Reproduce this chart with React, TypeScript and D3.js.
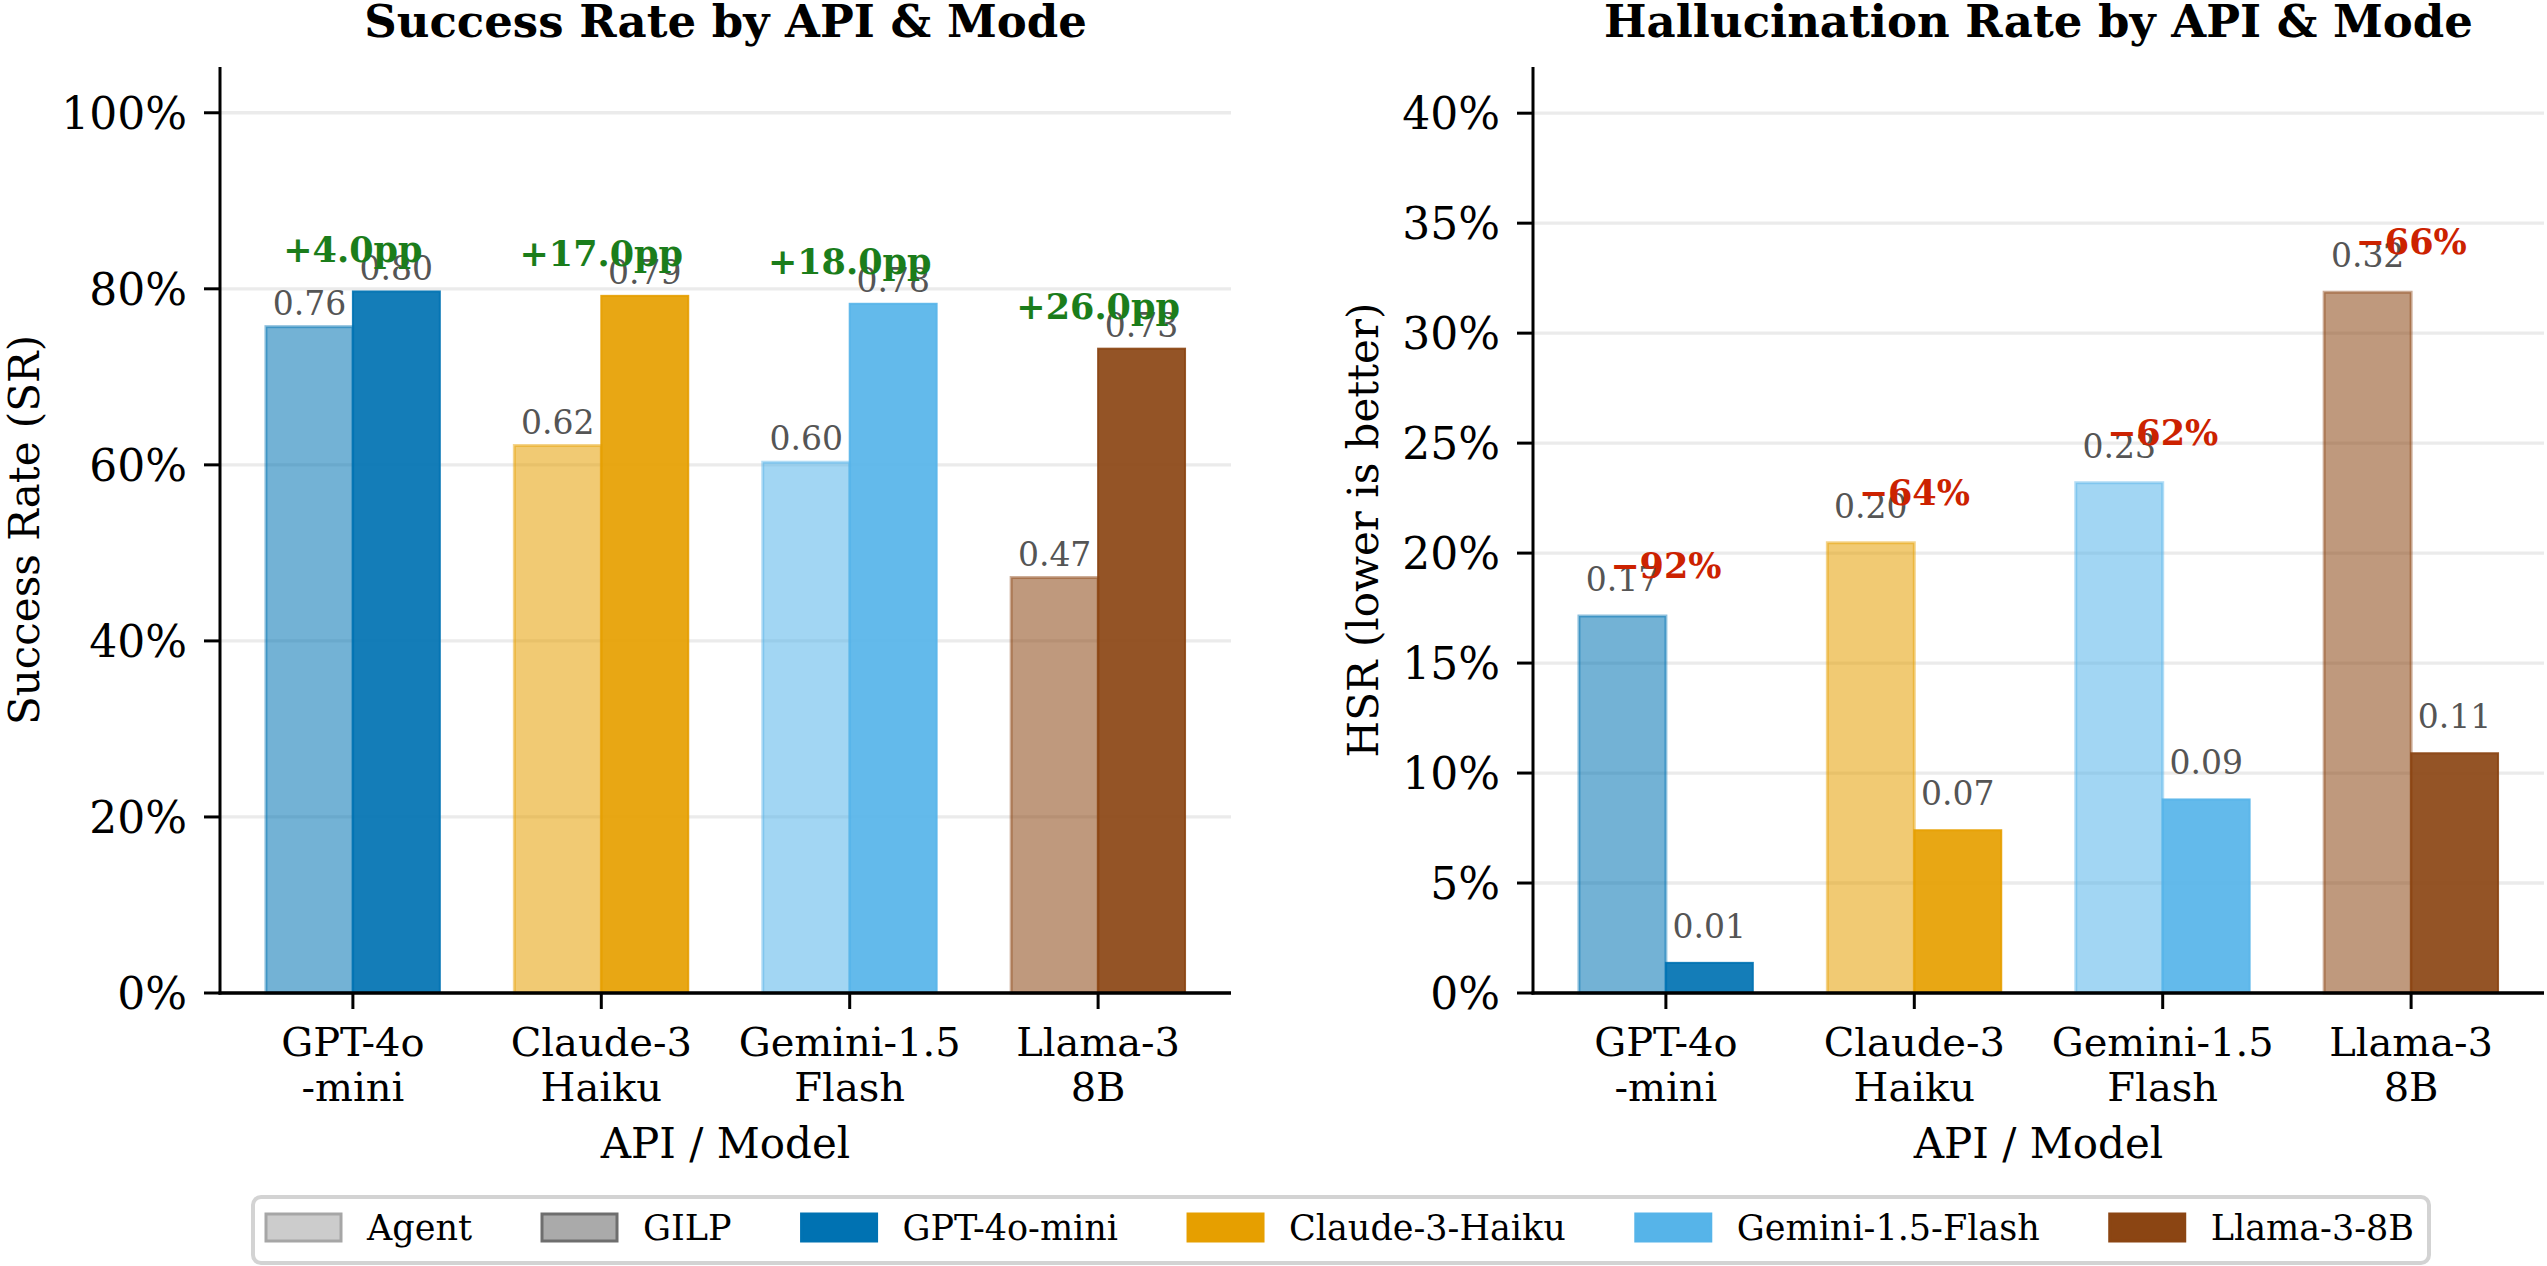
import React from 'react';
import * as d3 from 'd3';

const models = ['GPT-4o-mini', 'Claude-3-Haiku', 'Gemini-1.5-Flash', 'Llama-3-8B'];
const tickLines = [['GPT-4o', '-mini'], ['Claude-3', 'Haiku'], ['Gemini-1.5', 'Flash'], ['Llama-3', '8B']];
const modelColors = ['#0072B2', '#E69F00', '#56B4E9', '#8B4513'];

// success rate (higher is better)
const srAgent = [0.757, 0.622, 0.603, 0.472];
const srGilp = [0.797, 0.792, 0.783, 0.732];
const srTicks = [0, 0.2, 0.4, 0.6, 0.8, 1.0];

// hallucination rate (lower is better)
const hsrAgent = [0.1714, 0.2047, 0.232, 0.3186];
const hsrGilp = [0.0137, 0.074, 0.088, 0.109];
const hsrTicks = [0, 0.05, 0.1, 0.15, 0.2, 0.25, 0.3, 0.35, 0.4];

const legendItems = [
  { label: 'Agent', fill: '#cccccc', stroke: '#a6a6a6' },
  { label: 'GILP', fill: '#aaaaaa', stroke: '#6e6e6e' },
  ...models.map((m, i) => ({ label: m, fill: modelColors[i], stroke: modelColors[i] })),
];

const W = 2547;
const H = 1266;
const FONT = "'DejaVu Serif', serif";
const BOTTOM = 993;
const TOP = 67;

interface PanelProps {
  x0: number;
  x1: number;
  yMax: number;
  ticks: number[];
  agent: number[];
  gilp: number[];
  title: string;
  ylabel: string;
  ylabelOffset: number;
  annotOffset: number;
  annotColor: string;
  annot: (a: number, g: number) => string;
}

const Panel: React.FC<PanelProps> = ({
  x0, x1, yMax, ticks, agent, gilp, title, ylabel, ylabelOffset, annotOffset, annotColor, annot,
}) => {
  const x = d3.scaleLinear().domain([-0.535, 3.535]).range([x0, x1]);
  const y = d3.scaleLinear().domain([0, yMax]).range([BOTTOM, TOP]);
  const bw = x(0.35) - x(0);
  const midX = (x0 + x1) / 2;
  const midY = (TOP + BOTTOM) / 2;

  return (
    <g>
      <text x={midX} y={37} textAnchor="middle" fontFamily={FONT} fontWeight="bold" fontSize={45}>
        {title}
      </text>

      {/* grid */}
      {ticks.map(t => (
        <line key={`g${t}`} x1={x0} x2={x1} y1={y(t)} y2={y(t)} stroke="#ebebeb" strokeWidth={3.3} />
      ))}

      {/* bars */}
      {models.map((m, i) => (
        <g key={m}>
          <rect
            x={x(i - 0.35)} y={y(agent[i])} width={bw} height={BOTTOM - y(agent[i])}
            fill={modelColors[i]} fillOpacity={0.55}
            stroke={modelColors[i]} strokeOpacity={0.45} strokeWidth={3}
          />
          <rect
            x={x(i)} y={y(gilp[i])} width={bw} height={BOTTOM - y(gilp[i])}
            fill={modelColors[i]} fillOpacity={0.92}
            stroke={modelColors[i]} strokeOpacity={0.9} strokeWidth={2}
          />
        </g>
      ))}

      {/* value labels */}
      {models.map((m, i) => (
        <g key={`v${m}`} fontFamily={FONT} fontSize={33} fill="#555" textAnchor="middle">
          <text x={x(i - 0.175)} y={y(agent[i] + 0.01) - 3}>{agent[i].toFixed(2)}</text>
          <text x={x(i + 0.175)} y={y(gilp[i] + 0.01) - 3}>{gilp[i].toFixed(2)}</text>
        </g>
      ))}

      {/* change annotations */}
      {models.map((m, i) => (
        <text
          key={`a${m}`} x={x(i)} y={y(Math.max(agent[i], gilp[i]) + annotOffset) - 3}
          textAnchor="middle" fontFamily={FONT} fontWeight="bold" fontSize={35} fill={annotColor}
        >
          {annot(agent[i], gilp[i])}
        </text>
      ))}

      {/* spines */}
      <line x1={x0} x2={x0} y1={TOP} y2={BOTTOM + 1.5} stroke="#000" strokeWidth={3} />
      <line x1={x0 - 1.5} x2={x1} y1={BOTTOM} y2={BOTTOM} stroke="#000" strokeWidth={3.5} />

      {/* y ticks */}
      {ticks.map(t => (
        <g key={`t${t}`}>
          <line x1={x0 - 16} x2={x0} y1={y(t)} y2={y(t)} stroke="#000" strokeWidth={3} />
          <text x={x0 - 33} y={y(t)} dy="0.36em" textAnchor="end" fontFamily={FONT} fontSize={44}>
            {`${Math.round(t * 100)}%`}
          </text>
        </g>
      ))}

      {/* x ticks */}
      {tickLines.map((lines, i) => (
        <g key={`x${i}`}>
          <line x1={x(i)} x2={x(i)} y1={BOTTOM} y2={BOTTOM + 16} stroke="#000" strokeWidth={3} />
          {lines.map((ln, j) => (
            <text key={ln} x={x(i)} y={BOTTOM + 63 + j * 45} textAnchor="middle" fontFamily={FONT} fontSize={40}>
              {ln}
            </text>
          ))}
        </g>
      ))}

      <text x={midX} y={BOTTOM + 165} textAnchor="middle" fontFamily={FONT} fontSize={42}>API / Model</text>
      <text
        transform={`translate(${x0 - ylabelOffset},${midY}) rotate(-90)`}
        textAnchor="middle" fontFamily={FONT} fontSize={42}
      >
        {ylabel}
      </text>
    </g>
  );
};

function measure(txt: string, size: number): number {
  if (typeof document === 'undefined') return txt.length * size * 0.6;
  const c = document.createElement('canvas').getContext('2d');
  if (!c) return txt.length * size * 0.6;
  c.font = `${size}px 'DejaVu Serif'`;
  return c.measureText(txt).width;
}

const Legend: React.FC = () => {
  const boxX = 253;
  const boxY = 1197;
  const patchW = 75;
  const patchH = 27;
  const textPad = 26;
  const colSpace = 70;
  let cx = boxX + 13;
  const placed = legendItems.map(it => {
    const px = cx;
    const w = measure(it.label, 35);
    cx = px + patchW + textPad + w + colSpace;
    return { ...it, px };
  });
  const boxW = cx - colSpace + 15 - boxX;
  return (
    <g>
      <rect x={boxX} y={boxY} width={boxW} height={66} rx={8} fill="#fff" stroke="#d3d3d3" strokeWidth={4} />
      {placed.map(it => (
        <g key={it.label}>
          <rect x={it.px} y={1214} width={patchW} height={patchH} fill={it.fill} stroke={it.stroke} strokeWidth={3} />
          <text x={it.px + patchW + textPad} y={1240} fontFamily={FONT} fontSize={35}>{it.label}</text>
        </g>
      ))}
    </g>
  );
};

export default function App() {
  return (
    <svg width={W} height={H} style={{ position: 'absolute', left: 0, top: 0, background: '#fff' }}>
      <rect width={W} height={H} fill="#fff" />
      <Panel
        x0={220} x1={1231} yMax={1.052} ticks={srTicks} agent={srAgent} gilp={srGilp}
        title="Success Rate by API & Mode" ylabel="Success Rate (SR)" ylabelOffset={181}
        annotOffset={0.03} annotColor="#1b7d1b"
        annot={(a, g) => `+${((g - a) * 100).toFixed(1)}pp`}
      />
      <Panel
        x0={1533} x1={2544} yMax={0.421} ticks={hsrTicks} agent={hsrAgent} gilp={hsrGilp}
        title="Hallucination Rate by API & Mode" ylabel="HSR (lower is better)" ylabelOffset={155}
        annotOffset={0.016} annotColor="#cc2200"
        annot={(a, g) => `\u2212${Math.round((1 - g / a) * 100)}%`}
      />
      <Legend />
    </svg>
  );
}
